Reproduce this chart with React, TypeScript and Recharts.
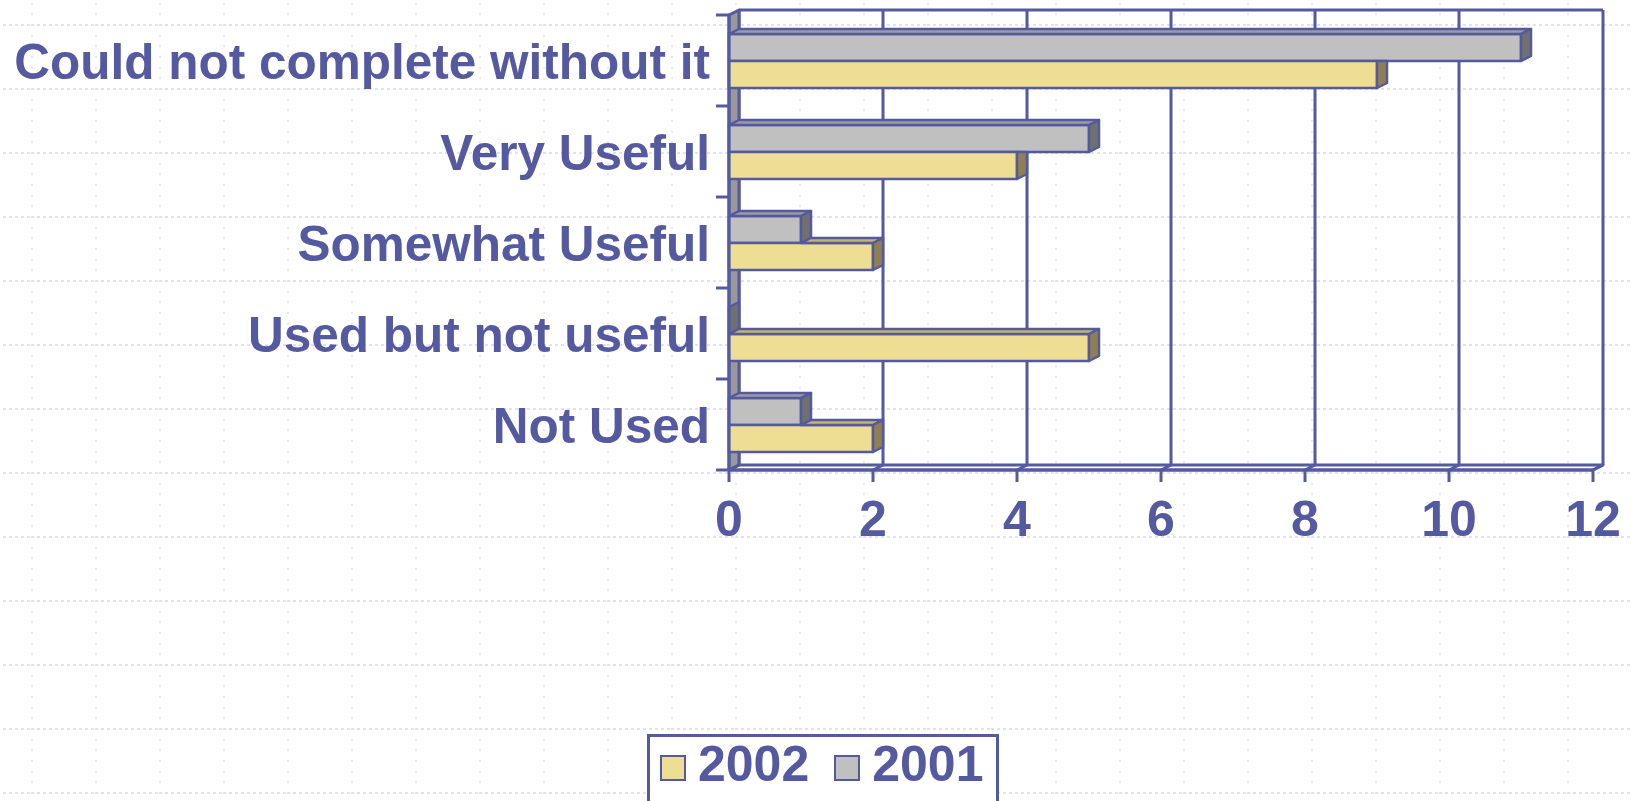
import React from 'react';
import { BarChart, Bar, XAxis, YAxis, CartesianGrid, Legend, ReferenceArea } from 'recharts';

// survey answers, top to bottom as in the slide
const categories = [
  'Could not complete without it',
  'Very Useful',
  'Somewhat Useful',
  'Used but not useful',
  'Not Used',
];
const values2001 = [11, 5, 1, 0, 1];
const values2002 = [9, 4, 2, 5, 2];
const xTicks = [0, 2, 4, 6, 8, 10, 12];
const legendNames = ['2002', '2001'];

const data = categories.map((c, i) => ({ category: c, y2001: values2001[i], y2002: values2002[i] }));

const NAVY = '#5459A0';
const FONT = "'Liberation Sans', Arial, sans-serif";
const DX = 10;
const DY = 5;

const faces = {
  y2001: { front: '#C0C0C0', top: '#9C9C9C', side: '#707070' },
  y2002: { front: '#EEDE94', top: '#C6B46C', side: '#8E8050' },
};
const legendColors: Record<string, string> = { '2002': faces.y2002.front, '2001': faces.y2001.front };

const pts = (a: number[][]) => a.map((p) => p.join(',')).join(' ');

// gray bar sits above the yellow one, so it is drawn whole
const GrayBar = (props: any) => {
  const { x, y, width, height } = props;
  const c = faces.y2001;
  const w = Math.max(0, width);
  return (
    <g stroke={NAVY} strokeWidth={2.5} strokeLinejoin="round">
      {w > 0 && <rect x={x} y={y} width={w} height={height} fill={c.front} />}
      {w > 0 && (
        <polygon points={pts([[x, y], [x + DX, y - DY], [x + w + DX, y - DY], [x + w, y]])} fill={c.top} />
      )}
      <polygon
        points={pts([[x + w, y], [x + w + DX, y - DY], [x + w + DX, y + height - DY], [x + w, y + height]])}
        fill={c.side}
      />
    </g>
  );
};

// yellow bar: only the part of its top face not hidden under the gray bar shows
const YellowBar = (props: any) => {
  const { x, y, width, height, payload } = props;
  const c = faces.y2002;
  const w = Math.max(0, width);
  const gw = payload.y2002 > 0 ? (payload.y2001 / payload.y2002) * w : 0;
  const sideTop = gw >= w + DX ? y : y - DY;
  return (
    <g stroke={NAVY} strokeWidth={2.5} strokeLinejoin="round">
      <rect x={x} y={y} width={w} height={height} fill={c.front} />
      {gw < w && (
        <polygon points={pts([[x + gw, y], [x + gw + DX, y - DY], [x + w + DX, y - DY], [x + w, y]])} fill={c.top} />
      )}
      <polygon
        points={pts([[x + w, y], [x + w + DX, sideTop], [x + w + DX, y + height - DY], [x + w, y + height]])}
        fill={c.side}
      />
    </g>
  );
};

// left wall, floor and back top edge of the 3d box
const Walls = (props: any) => {
  const { x, y, width, height } = props;
  return (
    <g stroke={NAVY} strokeWidth={3} strokeLinejoin="round">
      <polygon points={pts([[x, y], [x + DX, y - DY], [x + DX, y + height - DY], [x, y + height]])} fill="#999999" />
      <polygon
        points={pts([[x, y + height], [x + DX, y + height - DY], [x + width + DX, y + height - DY], [x + width, y + height]])}
        fill="none"
      />
      <line x1={x + DX} y1={y - DY} x2={x + width + DX} y2={y - DY} />
    </g>
  );
};

const BackGridLine = (props: any) => {
  const { x1, y1, x2, y2 } = props;
  return (
    <g key={props.key} stroke={NAVY} strokeWidth={3}>
      <line x1={x1 + DX} y1={y1 - DY} x2={x2 + DX} y2={y2 - DY} />
      <line x1={x2} y1={y2} x2={x2 + DX} y2={y2 - DY} />
    </g>
  );
};

const CategoryTick = (props: any) => {
  const { x, y, payload, index, visibleTicksCount } = props;
  const half = payload && payload.offset ? payload.offset : 45.5;
  const ax = x + 19;
  return (
    <g>
      <text x={x} y={y} dy="0.38em" textAnchor="end" fill={NAVY} fontSize={49.5} fontWeight="bold" fontFamily={FONT}>
        {payload.value}
      </text>
      <line x1={ax - 13} y1={y - half} x2={ax} y2={y - half} stroke={NAVY} strokeWidth={3} />
      {index === (visibleTicksCount ?? categories.length) - 1 && (
        <line x1={ax - 13} y1={y + half} x2={ax} y2={y + half} stroke={NAVY} strokeWidth={3} />
      )}
    </g>
  );
};

const LegendBox = () => (
  <div
    style={{
      boxSizing: 'border-box',
      width: 352,
      height: 100,
      border: `3px solid ${NAVY}`,
      background: '#fff',
      display: 'flex',
      alignItems: 'center',
      paddingLeft: 10,
      paddingBottom: 40,
      fontFamily: FONT,
      fontWeight: 'bold',
      fontSize: 50,
      lineHeight: '50px',
      color: NAVY,
    }}
  >
    {legendNames.map((n, i) => (
      <div key={n} style={{ display: 'flex', alignItems: 'center', marginLeft: i === 0 ? 0 : 25 }}>
        <span
          style={{
            display: 'inline-block',
            boxSizing: 'border-box',
            width: 26,
            height: 26,
            border: `2.5px solid ${NAVY}`,
            background: legendColors[n],
            marginRight: 12,
            position: 'relative',
            top: 4,
          }}
        />
        <span>{n}</span>
      </div>
    ))}
  </div>
);

export default function App() {
  return (
    <div style={{ position: 'absolute', left: 0, top: 0, width: 1631, height: 801, overflow: 'hidden', background: '#fff' }}>
      <svg width={1631} height={801} style={{ position: 'absolute', left: 0, top: 0 }}>
        <defs>
          <pattern id="bgGrid" x={31} y={24} width={64} height={64} patternUnits="userSpaceOnUse">
            <line x1={0} y1={1} x2={64} y2={1} stroke="#D3D7F6" strokeWidth={1.4} strokeDasharray="3 3" />
            <line x1={1} y1={0} x2={1} y2={64} stroke="#DADDF8" strokeWidth={1.4} strokeDasharray="2 8.67" />
          </pattern>
        </defs>
        <rect width={1631} height={801} fill="url(#bgGrid)" />
      </svg>
      <div style={{ position: 'absolute', left: 0, top: 0 }}>
        <BarChart
          width={1631}
          height={801}
          data={data}
          layout="vertical"
          margin={{ top: 15, right: 38, left: 0, bottom: 271 }}
          barSize={27}
          barGap={0}
        >
          <ReferenceArea x1={0} x2={12} shape={Walls} fill="none" stroke="none" />
          <CartesianGrid horizontal={false} vertical={BackGridLine} stroke={NAVY} />
          <XAxis
            type="number"
            domain={[0, 12]}
            ticks={xTicks}
            height={60}
            axisLine={{ stroke: NAVY, strokeWidth: 3 }}
            tickLine={{ stroke: NAVY, strokeWidth: 3 }}
            tickSize={12}
            tickMargin={18}
            tick={{ fill: NAVY, fontSize: 50, fontWeight: 'bold', fontFamily: FONT }}
          />
          <YAxis
            type="category"
            dataKey="category"
            width={729}
            axisLine={{ stroke: NAVY, strokeWidth: 3 }}
            tickLine={{ stroke: 'none' }}
            tickSize={13}
            tickMargin={6}
            tick={CategoryTick}
            interval={0}
          />
          <Legend
            verticalAlign="middle"
            align="center"
            layout="horizontal"
            content={LegendBox}
            wrapperStyle={{ left: 647, top: 734, width: 352, height: 100 }}
          />
          <Bar dataKey="y2001" name="2001" shape={GrayBar} isAnimationActive={false} />
          <Bar dataKey="y2002" name="2002" shape={YellowBar} isAnimationActive={false} />
        </BarChart>
      </div>
    </div>
  );
}
